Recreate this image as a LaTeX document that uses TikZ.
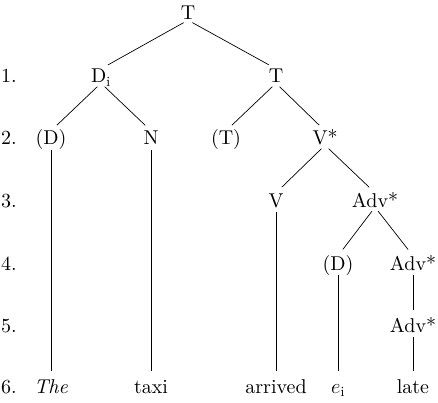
\documentclass[tikz,border=0pt]{standalone}
\usepackage{fontspec}
\setmainfont{lmroman10-regular.otf}[ItalicFont=lmroman10-italic.otf]
\tikzstyle{cat}=[anchor=base,inner sep=0pt,text height=14pt,text depth=0pt]
\tikzstyle{word}=[cat]
\tikzstyle{numbering}=[anchor=base west,inner sep=0pt]
\tikzstyle{branch}=[line width=0.7pt,shorten <=5pt,shorten >=8pt]

\begin{document}
\begin{tikzpicture}[x=1pt,y=1pt,font=\fontsize{20}{24}\selectfont]
			\useasboundingbox (0,0) rectangle (438,-403);
			%Adding numbering
			\foreach \y/\name in 	{{-83/1},	{-145/2},	{-207/3},
									 {-270/4},	{-332/5},	{-393/6}}
			\node[numbering] (row\name) at (1,\y) {\name.};
			%Adding the categories
			\node[cat] (T0) at (188,-20) {T};
			\node[cat] (Di) at (101,-83) {D$_\mathrm{i}$};
			\node[cat] (T1) at (276,-83) {T};
			\foreach \pos/\name/\label in 	{{(51,-145)/D2/(D)},	{(151,-145)/N2/N},
									 {(226,-145)/T2/(T)},	{(325,-145)/V2/V*}}
			\node[cat] (\name) at \pos {\label};
			\node[cat] (V3) at (276,-207) {V};
			\node[cat] (A3) at (375,-207) {Adv*};
			\node[cat] (D4) at (338,-270) {(D)};
			\node[cat] (A4) at (413,-270) {Adv*};
			\node[cat] (A5) at (413,-332) {Adv*};
			%Adding the words
			\node[word] (the) at (51,-393) {\textit{The}};
			\node[word] (taxi) at (151,-393) {taxi};
			\node[word] (arrived) at (276,-393) {arrived};
			\node[word] (ei) at (338,-393) {$e_\mathrm{i}$};
			\node[word] (late) at (413,-393) {late};
			%Adding the branches
			\foreach \from/\to in 	{T0/Di,	T0/T1,	Di/D2,	Di/N2,	T1/T2,	T1/V2,
									 V2/V3,	V2/A3,	A3/D4,	A3/A4,	A4/A5,
									 D2/the,	N2/taxi,	V3/arrived,	D4/ei,	A5/late}
			\draw[branch] (\from.south) -- (\to.north);
		\end{tikzpicture}
\end{document}
